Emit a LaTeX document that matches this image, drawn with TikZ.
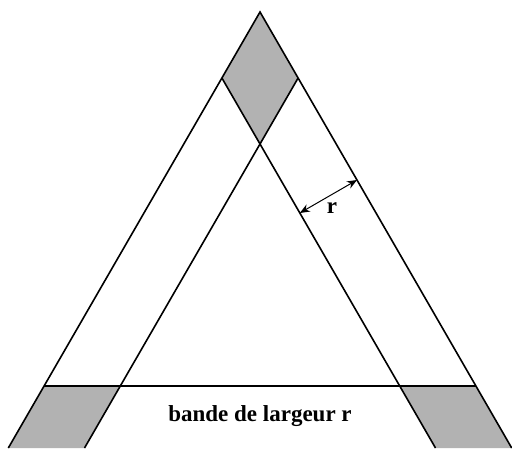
\documentclass[tikz,border=0pt]{standalone}
\usepackage{fontspec}
\setmainfont{Liberation Serif}
\usepackage{tikz}
\usetikzlibrary{arrows.meta,calc}

\begin{document}
\begin{tikzpicture}[
      x=0.5pt, y=-0.5pt,
      >={Stealth[length=5pt,width=4pt]},
      edge/.style={line width=0.8pt, black},
      zone/.style={fill=black!30, draw=none},
      label/.style={font=\fontsize{11.5}{13}\selectfont\bfseries, text=black},
  ]
      \useasboundingbox (0,0) rectangle (512,448);

      % Sommets
      \coordinate (apex) at (260,12);
      \coordinate (dl) at (221.9,78);
      \coordinate (dr) at (298.1,78);
      \coordinate (mid) at (260,144);
      \coordinate (ol) at (8.3,448);
      \coordinate (or) at (511.7,448);
      \coordinate (il) at (84.5,448);
      \coordinate (ir) at (435.5,448);
      \coordinate (hl) at (44.05,386);
      \coordinate (hil) at (120.3,386);
      \coordinate (hir) at (399.7,386);
      \coordinate (hr) at (475.95,386);

      % Zones grises
      \fill[zone] (apex) -- (dl) -- (mid) -- (dr) -- cycle;
      \fill[zone] (hl) -- (hil) -- (il) -- (ol) -- cycle;
      \fill[zone] (hir) -- (hr) -- (or) -- (ir) -- cycle;

      % Bandes
      \draw[edge] (ol) -- (apex) -- (or);
      \draw[edge] (dr) -- (il);
      \draw[edge] (dl) -- (ir);
      \draw[edge] (hl) -- (hr);

      % Largeur r
      \coordinate (p1) at (299.8,213);
      \coordinate (p2) at (357,180);
      \draw[<->, line width=0.5pt] (p1) -- (p2);
      \node[label] (lr) at (332,208) {r};

      \node[label] (band) at (260,416) {bande de largeur r};

  \end{tikzpicture}
\end{document}
